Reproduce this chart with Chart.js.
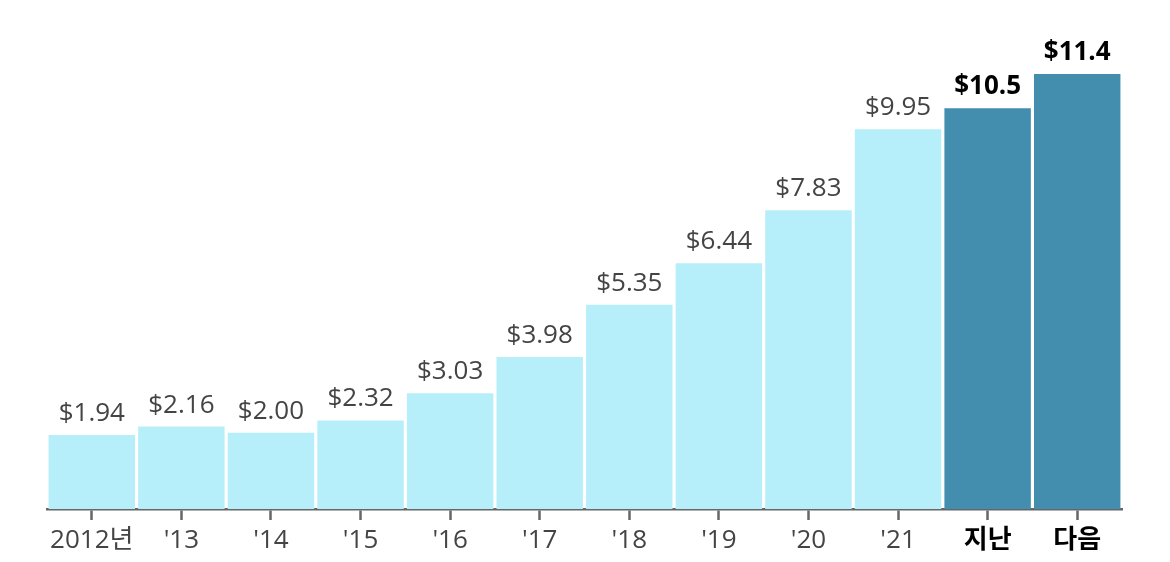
<!DOCTYPE html>
<html>
<head>
<meta charset="utf-8">
<script src="https://cdn.jsdelivr.net/npm/chart.js@4/dist/chart.umd.min.js"></script>
<style>
  html, body { margin: 0; padding: 0; background: #fff; }
  #wrap { width: 1170px; height: 562px; }
</style>
</head>
<body>
<div id="wrap"><canvas id="c"></canvas></div>
<script>
const labels = ["2012년", "'13", "'14", "'15", "'16", "'17", "'18", "'19", "'20", "'21", "지난", "다음"];
const values = [1.94, 2.16, 2.00, 2.32, 3.03, 3.98, 5.35, 6.44, 7.83, 9.95, 10.5, 11.4];
const valueText = ["$1.94", "$2.16", "$2.00", "$2.32", "$3.03", "$3.98", "$5.35", "$6.44", "$7.83", "$9.95", "$10.5", "$11.4"];
const highlight = [false, false, false, false, false, false, false, false, false, false, true, true];

const FONT = "'Open Sans', 'Noto Sans', 'Noto Sans CJK KR', sans-serif";

// Beschriftung ueber den Balken
const valueLabels = {
  id: 'valueLabels',
  afterDatasetsDraw(chart) {
    const ctx = chart.ctx;
    const meta = chart.getDatasetMeta(0);
    ctx.save();
    ctx.textAlign = 'center';
    ctx.textBaseline = 'alphabetic';
    meta.data.forEach(function(bar, i) {
      ctx.font = (highlight[i] ? 'bold ' : '') + '26px ' + FONT;
      ctx.fillStyle = highlight[i] ? '#000' : '#444';
      ctx.fillText(valueText[i], bar.x, bar.y - 14);
    });
    ctx.restore();
  }
};

new Chart(document.getElementById('c'), {
  type: 'bar',
  data: {
    labels: labels,
    datasets: [{
      data: values,
      backgroundColor: highlight.map(h => h ? '#438eae' : '#b6eff9'),
      barPercentage: 0.965,
      categoryPercentage: 1.0
    }]
  },
  options: {
    responsive: true,
    maintainAspectRatio: false,
    animation: false,
    layout: { padding: { left: 47, right: 48, top: 51, bottom: 0 } },
    plugins: { legend: { display: false }, tooltip: { enabled: false } },
    scales: {
      y: { display: false, min: 0, max: 12 },
      x: {
        border: { color: '#666', width: 2.5 },
        grid: { offset: false, drawOnChartArea: false, tickLength: 11, tickColor: '#666', tickWidth: 2.5 },
        ticks: {
          padding: 8,
          font: ctx => ({ family: FONT, size: 26, lineHeight: 1.0, weight: highlight[ctx.index] ? 'bold' : 'normal' }),
          color: ctx => highlight[ctx.index] ? '#000' : '#444'
        }
      }
    }
  },
  plugins: [valueLabels]
});
</script>
</body>
</html>
